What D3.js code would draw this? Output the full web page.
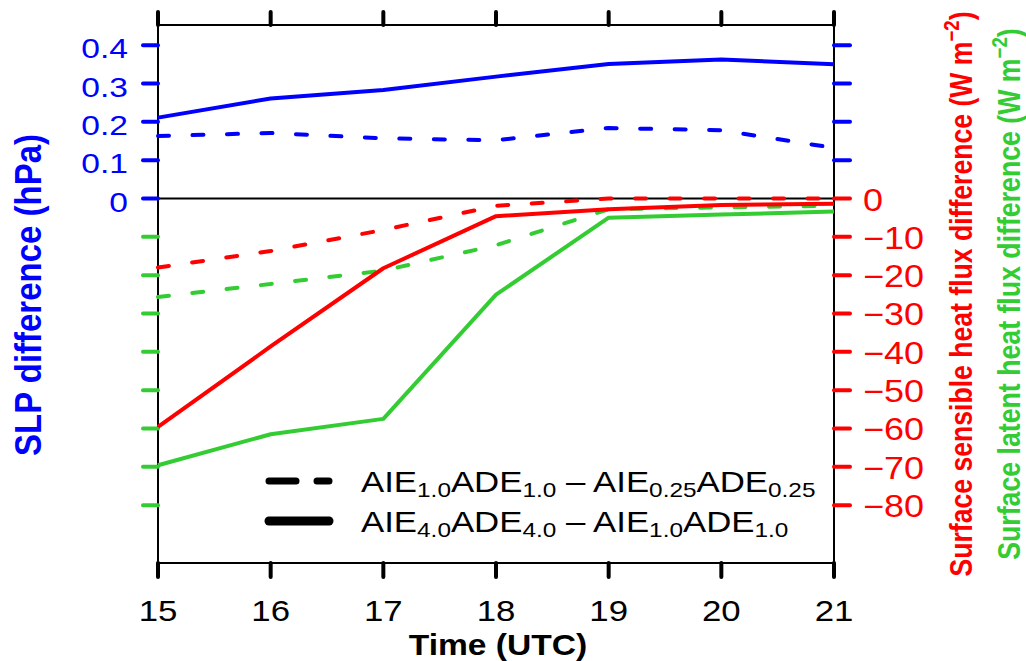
<!DOCTYPE html>
<html>
<head>
<meta charset="utf-8">
<script src="https://cdn.jsdelivr.net/npm/d3@7"></script>
<style>
  body { margin: 0; background: #fff; }
  svg { display: block; font-family: "Liberation Sans", Arial, sans-serif; }
</style>
</head>
<body>
<svg id="chart" width="1026" height="661"></svg>
<script>
// data
const hours = [15, 16, 17, 18, 19, 20, 21];
const slpDash  = [0.163, 0.171, 0.157, 0.152, 0.184, 0.178, 0.132];   // AIE1.0ADE1.0 - AIE0.25ADE0.25
const slpSolid = [0.211, 0.261, 0.283, 0.318, 0.351, 0.363, 0.350];   // AIE4.0ADE4.0 - AIE1.0ADE1.0
const shDash   = [-18.0, -13.7, -8.2, -1.9, 0, 0, 0];
const shSolid  = [-59.6, -38.6, -18.2, -4.6, -2.8, -1.7, -1.4];
const lhDash   = [-25.7, -22.3, -18.8, -12.2, -2.8, -2.3, -1.9];
const lhSolid  = [-69.6, -61.5, -57.5, -25.1, -5.0, -4.2, -3.4];
const slpTicks = [0, 0.1, 0.2, 0.3, 0.4];
const fluxTicks = [0, -10, -20, -30, -40, -50, -60, -70, -80];

const BLUE = "#0000ff", RED = "#ff0000", GREEN = "#33cc33";
const plotL = 158, plotR = 834, plotT = 25, plotB = 563;
const SX = 1.16; // the original figure is stretched sideways

const svg = d3.select("#chart");

const x = d3.scaleLinear().domain([15, 21]).range([plotL, plotR]);
const ySlp = d3.scaleLinear().domain([-0.951, 0.4527]).range([plotB, plotT]);
const yFlux = d3.scaleLinear().domain([-95.1, 45.27]).range([plotB, plotT]);

// frame
svg.append("rect")
  .attr("x", plotL).attr("y", plotT)
  .attr("width", plotR - plotL).attr("height", plotB - plotT)
  .attr("fill", "none").attr("stroke", "#000").attr("stroke-width", 2);

// zero line
svg.append("line")
  .attr("x1", plotL).attr("x2", plotR)
  .attr("y1", ySlp(0)).attr("y2", ySlp(0))
  .attr("stroke", "#000").attr("stroke-width", 2);

// ticks
function tick(x1, y1, x2, y2, color) {
  svg.append("line")
    .attr("x1", x1).attr("y1", y1).attr("x2", x2).attr("y2", y2)
    .attr("stroke", color).attr("stroke-width", 4).attr("stroke-linecap", "round");
}
hours.forEach((h) => {
  tick(x(h), plotT, x(h), plotT - 13, "#000");
  tick(x(h), plotB, x(h), plotB + 14, "#000");
});
slpTicks.forEach((v) => {
  tick(plotL - 15, ySlp(v), plotL, ySlp(v), BLUE);
  if (v > 0) tick(plotR, ySlp(v), plotR + 16, ySlp(v), BLUE);
});
fluxTicks.forEach((v) => {
  if (v < 0) tick(plotL - 15, yFlux(v), plotL, yFlux(v), GREEN);
  tick(plotR, yFlux(v), plotR + 16, yFlux(v), RED);
});

// text helper: horizontal text stretched in x
function label(tx, ty, str, size, color, anchor, weight, sx) {
  return svg.append("text")
    .attr("transform", `translate(${tx},${ty}) scale(${sx || SX},1)`)
    .attr("text-anchor", anchor)
    .attr("font-size", size)
    .attr("font-weight", weight || "normal")
    .attr("fill", color)
    .text(str);
}

hours.forEach((h) => label(x(h), 621, h, 29, "#000", "middle", "normal", 1.2));
slpTicks.forEach((v) => label(128, ySlp(v) + 13, d3.format("")(v), 28, BLUE, "end", "normal", 1.2));
fluxTicks.forEach((v) => label(863, yFlux(v) + 12, v === 0 ? "0" : "\u2212" + Math.abs(v), 31, RED, "start"));

label(498, 655, "Time (UTC)", 30, "#000", "middle", "bold", 1.12);

// vertical titles
function vtitle(tx, ty, size, color, across, parts) {
  const t = svg.append("text")
    .attr("transform", `translate(${tx},${ty}) rotate(-90) scale(1,${across})`)
    .attr("text-anchor", "middle")
    .attr("font-size", size)
    .attr("font-weight", "bold")
    .attr("fill", color);
  parts.forEach((p) => {
    const s = t.append("tspan").text(p.t);
    if (p.sup) s.attr("font-size", size * 0.7).attr("dy", -size * 0.42);
    if (p.after) s.attr("dy", size * 0.42);
  });
  return t;
}
vtitle(41, 295, 33, BLUE, 1.12, [{ t: "SLP difference (hPa)" }]);
vtitle(972, 294, 26.6, RED, 1.16, [
  { t: "Surface sensible heat flux difference (W m" },
  { t: "\u22122", sup: true },
  { t: ")", after: true }
]);
vtitle(1020, 294, 26.7, GREEN, 1.16, [
  { t: "Surface latent heat flux difference (W m" },
  { t: "\u22122", sup: true },
  { t: ")", after: true }
]);

// series
const line = (yScale) => d3.line().x((d, i) => x(hours[i])).y((d) => yScale(d));
const series = [
  { data: lhSolid, y: yFlux, color: GREEN, dash: null },
  { data: lhDash, y: yFlux, color: GREEN, dash: "11,23.5" },
  { data: shSolid, y: yFlux, color: RED, dash: null },
  { data: shDash, y: yFlux, color: RED, dash: "11,23.5" },
  { data: slpSolid, y: ySlp, color: BLUE, dash: null },
  { data: slpDash, y: ySlp, color: BLUE, dash: "11,23.5" }
];
svg.selectAll(".series")
  .data(series)
  .join("path")
  .attr("class", "series")
  .attr("d", (s) => line(s.y)(s.data))
  .attr("fill", "none")
  .attr("stroke", (s) => s.color)
  .attr("stroke-width", 4)
  .attr("stroke-linecap", (s) => (s.dash ? "round" : "butt"))
  .attr("stroke-linejoin", "round")
  .attr("stroke-dasharray", (s) => s.dash);

// legend
const legendItems = [
  { y: 481, dash: "27,21", width: 7, parts: [["AIE"], ["1.0", 1], ["ADE"], ["1.0", 1], [" \u2013 AIE"], ["0.25", 1], ["ADE"], ["0.25", 1]] },
  { y: 521, dash: null, width: 9, parts: [["AIE"], ["4.0", 1], ["ADE"], ["4.0", 1], [" \u2013 AIE"], ["1.0", 1], ["ADE"], ["1.0", 1]] }
];
legendItems.forEach((it) => {
  svg.append("line")
    .attr("x1", 269).attr("x2", 329)
    .attr("y1", it.y).attr("y2", it.y)
    .attr("stroke", "#000").attr("stroke-width", it.width)
    .attr("stroke-linecap", "round")
    .attr("stroke-dasharray", it.dash);
  const t = svg.append("text")
    .attr("transform", `translate(361,${it.y + 11}) scale(${SX},1)`)
    .attr("font-size", 30)
    .attr("fill", "#000");
  let shifted = false;
  it.parts.forEach(([str, sub]) => {
    const s = t.append("tspan").text(str);
    if (sub && !shifted) { s.attr("font-size", 21).attr("dy", 5); shifted = true; }
    else if (!sub && shifted) { s.attr("dy", -5); shifted = false; }
    else if (sub) s.attr("font-size", 21);
  });
});
</script>
</body>
</html>
